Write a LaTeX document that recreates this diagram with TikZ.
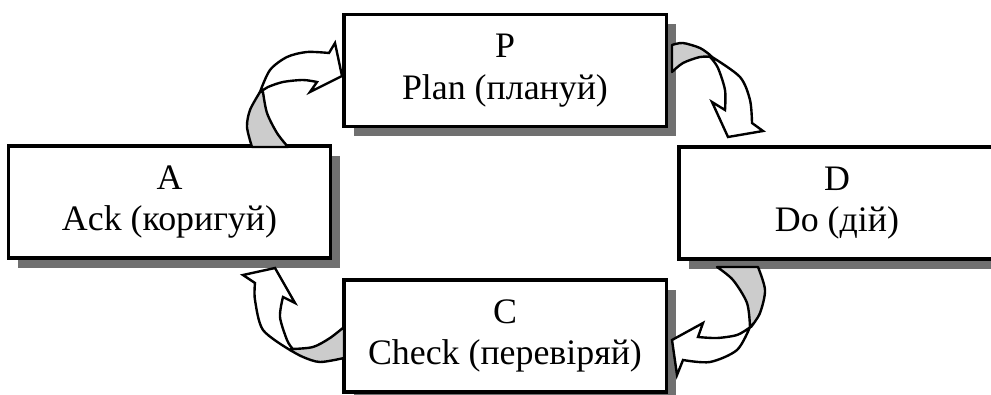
\documentclass[tikz,border=0pt]{standalone}
\usepackage{fontspec}
\setmainfont{Liberation Serif}
\usepackage{tikz}
\definecolor{ShadowGray}{HTML}{707070}
\definecolor{TwistGray}{HTML}{CCCCCC}
\tikzset{
  stagebox/.style={
    draw=black,fill=white,line width=2.2pt,
    minimum width=8.05cm,minimum height=2.8cm,
    font=\fontsize{25.5}{29.6}\selectfont,
    align=center,inner sep=0pt,
    preaction={fill=ShadowGray,transform canvas={xshift=0.24cm,yshift=-0.24cm}}
  },
  twistpart/.style={draw=black,fill=TwistGray,line width=1.7pt,line join=round},
  arrowpart/.style={draw=black,fill=white,line width=1.7pt,line join=miter},
}

\begin{document}
\begin{tikzpicture}[x=0.025cm,y=-0.025cm]
  \useasboundingbox (0,0) rectangle (991,394);
  \node[stagebox] (plan) at (505,70.5) {P\\Plan (плануй)};
  \node[stagebox] (act) at (169.5,202) {A\\Ack (коригуй)};
  \node[stagebox,minimum width=7.9cm] (do) at (837,203) {D\\Do (дій)};
  \node[stagebox] (check) at (505,336) {C\\Check (перевіряй)};
  % A -> P
  \filldraw[twistpart] plot[smooth] coordinates {(252,147) (247,127) (250,110) (260,92)}
    -- plot[smooth] coordinates {(263,92) (267,113) (277,133) (288,147)} -- cycle;
  \filldraw[arrowpart] plot[smooth] coordinates {(260,92) (270,70) (287,57) (307,52) (329,53)}
    -- (335,43) -- (342,76) -- (310,92)
    -- plot[smooth] coordinates {(317,82) (303,80) (283,82) (268,87) (262,91)} -- cycle;
  % P -> D
  \filldraw[twistpart] plot[smooth] coordinates {(672,45) (683,43) (700,48) (710,55)}
    -- plot[smooth] coordinates {(712,57) (700,57) (683,63) (672,72)} -- cycle;
  \filldraw[arrowpart] plot[smooth] coordinates {(712,57) (740,77) (750,100) (752,123)}
    -- (763,131) -- (728,137) -- (712,102)
    -- plot[smooth] coordinates {(725,110) (725,90) (718,68) (711,58)} -- cycle;
  % D -> C
  \filldraw[twistpart] plot[smooth] coordinates {(717,267) (733,280) (747,303) (750,327)}
    -- plot[smooth] coordinates {(751,327) (760,313) (765,290) (758,267)} -- cycle;
  \filldraw[arrowpart] plot[smooth] coordinates {(750,327) (737,350) (710,362) (683,360)}
    -- (677,375) -- (672,340) -- (703,323)
    -- plot[smooth] coordinates {(698,337) (717,338) (737,335) (749,328)} -- cycle;
  % C -> A
  \filldraw[twistpart] plot[smooth] coordinates {(344,327) (330,338) (313,347) (292,349)}
    -- plot[smooth] coordinates {(290,350) (303,357) (320,362) (344,358)} -- cycle;
  \filldraw[arrowpart] plot[smooth] coordinates {(290,350) (263,330) (255,300) (255,283)}
    -- (243,275) -- (275,268) -- (295,303)
    -- plot[smooth] coordinates {(283,297) (280,317) (287,340) (292,348)} -- cycle;
\end{tikzpicture}
\end{document}
